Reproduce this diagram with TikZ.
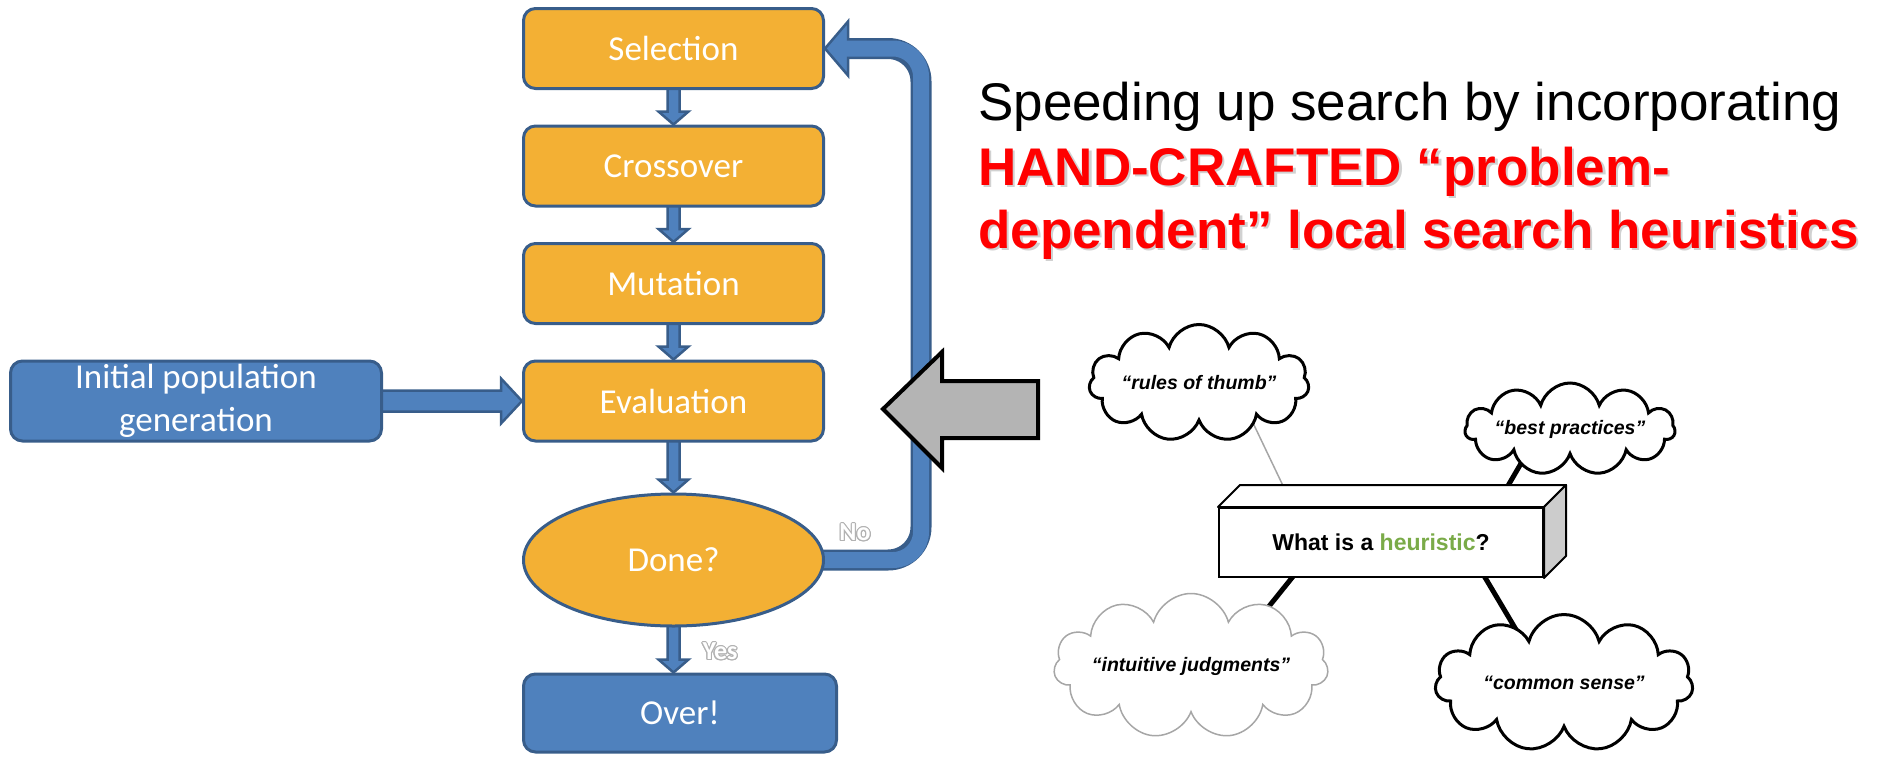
\documentclass[tikz,border=0pt]{standalone}
\usepackage{fontspec}
\setmainfont{Liberation Sans}
\newfontfamily\calibri{Carlito}
\usepackage{contour}
\usetikzlibrary{positioning, calc, shapes.geometric, shapes.symbols}
\pgfdeclarelayer{background}
\pgfsetlayers{background,main}

\definecolor{gaorange}{RGB}{243,176,52}
\definecolor{gablue}{RGB}{79,129,189}
\definecolor{gaedge}{RGB}{56,93,138}
\definecolor{heurgreen}{RGB}{122,171,72}
\definecolor{arrowgray}{RGB}{180,180,180}
\contourlength{1.1pt}

\begin{document}
\begin{tikzpicture}[x=1pt, y=-1pt,
  every node/.style={inner sep=0pt},
  gabox/.style    = {draw=gaedge, line width=3pt, rounded corners=12pt, minimum width=300pt, minimum height=80pt,
                     text=white, align=center, font=\calibri\fontsize{35}{43}\selectfont},
  opbox/.style    = {gabox, fill=gaorange},
  termbox/.style  = {gabox, fill=gablue},
  decision/.style = {opbox, ellipse, sharp corners, minimum height=132pt},
  blkarr/.style   = {fill=gablue, draw=gaedge, line width=2.5pt, line join=miter},
  yesno/.style    = {text=white, font=\calibri\bfseries\fontsize{26}{26}\selectfont},
  headline/.style = {anchor=base west, font=\fontsize{53}{64}\selectfont},
  hotline/.style  = {headline, font=\bfseries\fontsize{53}{64}\selectfont, text=red},
  puff/.style     = {cloud, cloud puffs=11, cloud ignores aspect, draw, fill=white, line width=3pt,
                     font=\bfseries\itshape\fontsize{19.5}{20}\selectfont},
  spoke/.style    = {line width=5pt},
  bigarrow/.style = {fill=arrowgray, draw=black, line width=4pt, line join=miter},
]
  \useasboundingbox (0,0) rectangle (1877,758);

  % GA loop
  \node[opbox] (sel) at (673.5,48.5) {Selection};
  \node[opbox, below=34.5pt of sel]   (cross) {Crossover};
  \node[opbox, below=34.5pt of cross] (mut)   {Mutation};
  \node[opbox, below=34.5pt of mut]   (eval)  {Evaluation};
  \node[decision, below=50pt of eval] (done) {Done?};
  \node[termbox, below=45pt of done, xshift=6.5pt, minimum width=313pt, minimum height=78pt] (over) {Over!};
  \node[termbox, minimum width=371pt] (init) at (196,0 |- eval) {Initial population\\generation};

  \node[yesno] (nolbl)  at (855,533) {\contour{gray!60}{No}};
  \node[yesno] (yeslbl) at (720,652) {\contour{gray!60}{Yes}};

  \begin{pgfonlayer}{background}
    \foreach \a/\b in {sel/cross,cross/mut,mut/eval,eval/done,done/over}
      \draw[blkarr] ($(\a.south)+(-6,-3)$) -- ($(\a.south |- \b.north)+(-6,-13)$) -- ++(-9,0)
        -- (\a.south |- \b.north) -- ++(15,-13) -- ++(-9,0) -- ($(\a.south)+(6,-3)$) -- cycle;
    \draw[blkarr] ($(init.east)+(-3,-10.5)$) -- ($(eval.west)+(-21,-10.5)$) -- ++(0,-12)
      -- (eval.west) -- ++(-21,22.5) -- ++(0,-12) -- ($(init.east)+(-3,10.5)$) -- cycle;
    % back to selection
    \coordinate (turn) at ($(sel.east)+(96,0)$);
    \draw[gaedge, line width=21pt, rounded corners=33pt]
      ($(done.east)+(-6,0)$) -- (done.east -| turn) -- (turn) -- ($(sel.east)+(23,0)$);
    \draw[blkarr] (sel.east) -- ++(23,-27) -- ++(0,54) -- cycle;
    \draw[gablue, line width=16pt, rounded corners=28pt]
      ($(done.east)+(-6,0)$) -- (done.east -| turn) -- (turn) -- ($(sel.east)+(15,0)$);
  \end{pgfonlayer}

  \draw[bigarrow] (883,409) -- (942,352) -- (942,381) -- (1038,381) -- (1038,438) -- (942,438) -- (942,468) -- cycle;

  % heading
  \node[headline] (lead) at (978,120) {Speeding up search by incorporating};
  \node[hotline, text=black!18] (handsh) at (980.5,187.5) {HAND-CRAFTED “problem-};
  \node[hotline] (hand) at (978,185) {HAND-CRAFTED “problem-};
  \node[hotline, text=black!18] (depsh) at (980.5,250.5) {dependent” local search heuristics};
  \node[hotline] (dep) at (978,248) {dependent” local search heuristics};

  % what is a heuristic
  \coordinate (rulesA) at (1243,402);  \coordinate (rulesB) at (1286,492);
  \coordinate (bestA)  at (1530,448);  \coordinate (bestB)  at (1502,496);
  \coordinate (intA)   at (1258,620);  \coordinate (intB)   at (1299,569);
  \coordinate (comA)   at (1521,638);  \coordinate (comB)   at (1480,569);
  \draw[gray!70, line width=1.5pt] (rulesA) -- (rulesB);
  \draw[spoke] (bestA) -- (bestB);
  \draw[spoke] (intA) -- (intB);
  \draw[spoke] (comA) -- (comB);

  \node[draw, fill=white, line width=2pt, minimum width=324pt, minimum height=69pt,
        font=\bfseries\fontsize{23}{23}\selectfont] (what) at (1381,542.5)
        {What is a \textcolor{heurgreen}{heuristic}?};
  \draw[fill=white, line width=2pt, line join=round]
    (what.north west) -- ++(22,-22) -- ($(what.north east)+(22,-22)$) -- (what.north east) -- cycle;
  \draw[fill=gray!40, line width=2pt, line join=round]
    (what.north east) -- ++(22,-22) -- ($(what.south east)+(22,-22)$) -- (what.south east) -- cycle;

  \node[puff, minimum width=220pt, minimum height=117pt] (rules) at (1199,383) {“rules of thumb”};
  \node[puff, minimum width=205pt, minimum height=92pt]  (best)  at (1570,429) {“best practices”};
  \node[puff, draw=gray!70, line width=1.5pt, minimum width=272pt, minimum height=145pt] (intuit) at (1191,666) {“intuitive judgments”};
  \node[puff, minimum width=258pt, minimum height=137pt] (common) at (1564,683) {“common sense”};
\end{tikzpicture}
\end{document}
